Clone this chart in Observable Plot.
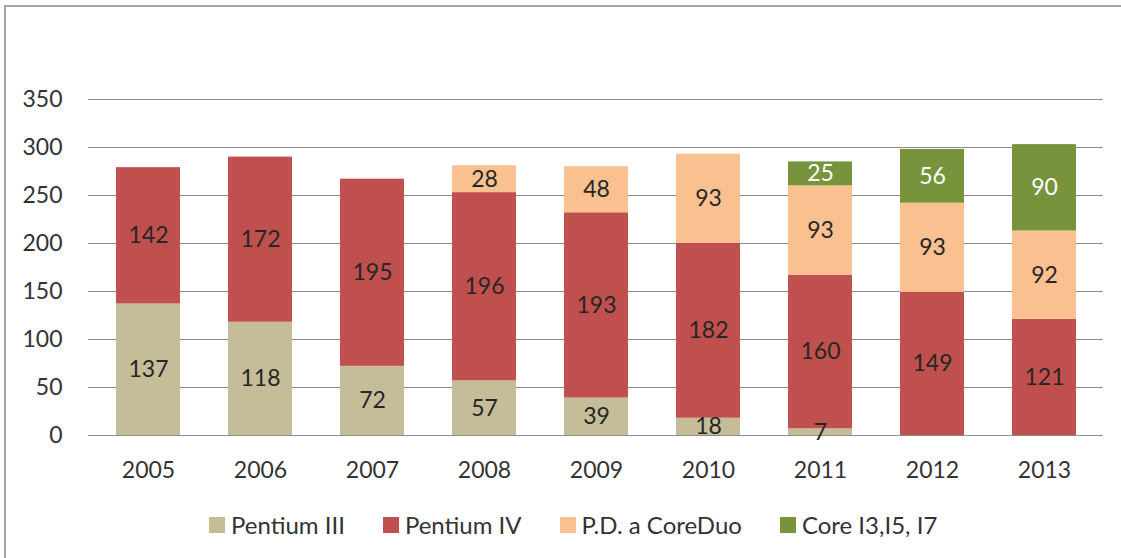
<!DOCTYPE html>
<html>
<head>
<meta charset="utf-8">
<script src="https://cdn.jsdelivr.net/npm/d3@7"></script>
<script src="https://cdn.jsdelivr.net/npm/@observablehq/plot@0.6"></script>
<style>
  body { margin: 0; background: #fff; }
  #wrap { position: relative; width: 1121px; height: 558px; overflow: hidden; font-family: Lato, "Open Sans", sans-serif; background: #fff; }
  #frame { position: absolute; left: 4px; top: 5px; right: -10px; bottom: -10px; border-left: 2px solid #a6a6a6; border-top: 2px solid #a6a6a6; pointer-events: none; }
  #chart { position: absolute; left: 0; top: 0; }
  #legend { position: absolute; left: 209px; top: 510px; display: flex; gap: 38px; font-size: 24px; color: #333; line-height: 30px; }
  .item { display: flex; align-items: center; }
  .sw { width: 16px; height: 16px; margin-right: 6px; }
</style>
</head>
<body>
<div id="wrap">
  <div id="chart"></div>
  <div id="legend"></div>
  <div id="frame"></div>
</div>
<script>
const years = ["2005", "2006", "2007", "2008", "2009", "2010", "2011", "2012", "2013"];
const seriesNames = ["Pentium III", "Pentium IV", "P.D. a CoreDuo", "Core I3,I5, I7"];
const pentium3 = [137, 118, 72, 57, 39, 18, 7, 0, 0];
const pentium4 = [142, 172, 195, 196, 193, 182, 160, 149, 121];
const pdCoreDuo = [0, 0, 0, 28, 48, 93, 93, 93, 92];
const coreI = [0, 0, 0, 0, 0, 0, 25, 56, 90];
const colors = ["#c4bd97", "#c0504d", "#fac090", "#77933c"];
const labelColors = ["#262626", "#262626", "#262626", "#ffffff"];
const yTicks = [0, 50, 100, 150, 200, 250, 300, 350];

const seriesValues = [pentium3, pentium4, pdCoreDuo, coreI];
const rows = [];
years.forEach((year, i) => {
  let base = 0;
  seriesValues.forEach((vals, s) => {
    const v = vals[i];
    if (v > 0) {
      rows.push({year, series: seriesNames[s], value: v, y1: base, y2: base + v, mid: base + v / 2, labelColor: labelColors[s]});
      base += v;
    }
  });
});

const chart = Plot.plot({
  width: 1121,
  height: 495,
  marginLeft: 88,
  marginRight: 18,
  marginTop: 99,
  marginBottom: 60,
  style: { fontFamily: "Lato, 'Open Sans', sans-serif", fontSize: "23px", color: "#333", background: "transparent" },
  x: { domain: years, paddingInner: 0.43, paddingOuter: 0.215 },
  y: { domain: [0, 350] },
  color: { domain: seriesNames, range: colors },
  marks: [
    Plot.ruleY(yTicks, { stroke: "#8c8c8c", strokeWidth: 1.2 }),
    Plot.barY(rows, { x: "year", y1: "y1", y2: "y2", fill: "series" }),
    Plot.text(rows.filter(d => d.series !== seriesNames[3]), { x: "year", y: "mid", text: "value", fill: "#262626", fontSize: 23 }),
    Plot.text(rows.filter(d => d.series === seriesNames[3]), { x: "year", y: "mid", text: "value", fill: "#ffffff", fontSize: 23 }),
    Plot.axisY(yTicks, { tickSize: 0, tickPadding: 26, label: null, fill: "#333" }),
    Plot.axisX(years, { tickSize: 0, tickPadding: 26, label: null, fill: "#333" })
  ]
});
document.getElementById("chart").appendChild(chart);

const legend = document.getElementById("legend");
seriesNames.forEach((name, i) => {
  const item = document.createElement("div");
  item.className = "item";
  const sw = document.createElement("div");
  sw.className = "sw";
  sw.style.background = colors[i];
  const label = document.createElement("span");
  label.textContent = name;
  item.appendChild(sw);
  item.appendChild(label);
  legend.appendChild(item);
});
</script>
</body>
</html>
